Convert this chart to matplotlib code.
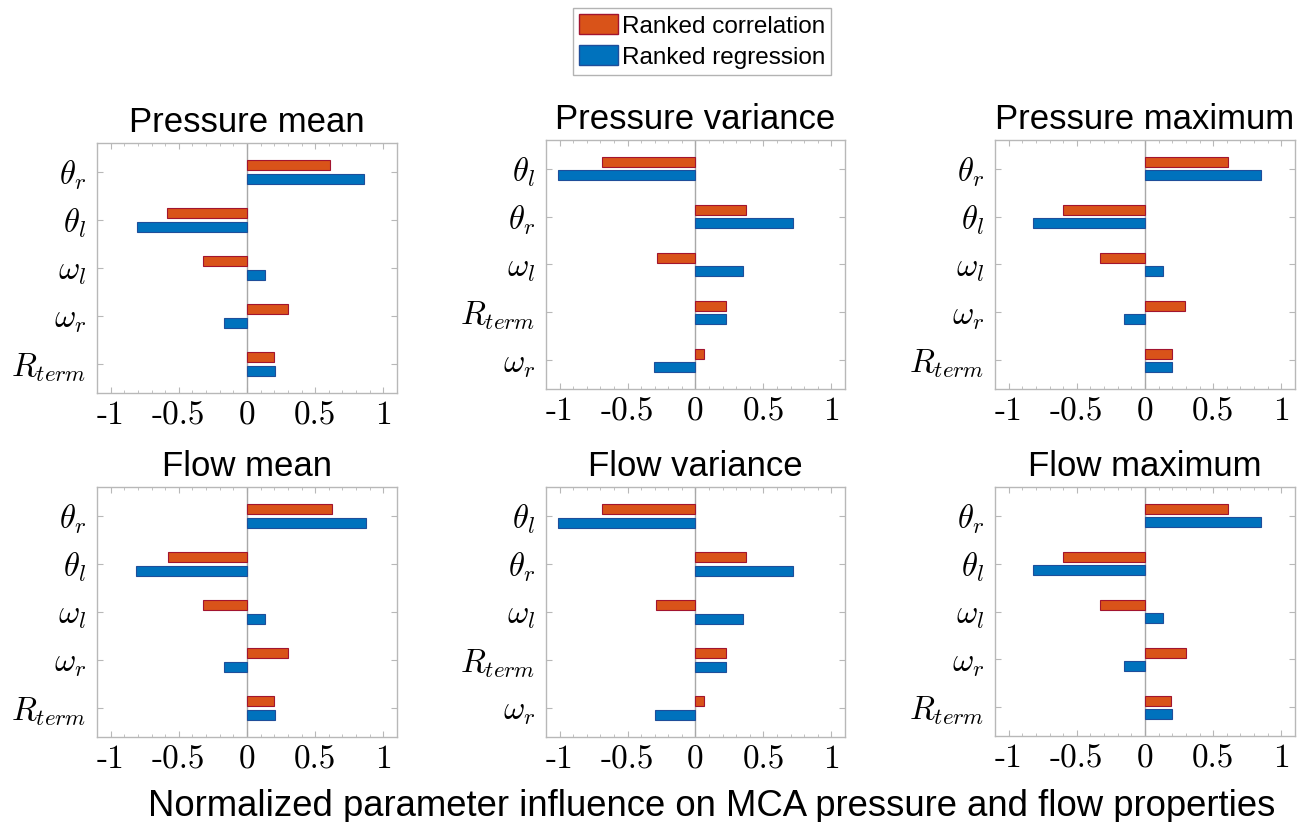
import numpy as np
import matplotlib
matplotlib.use('Agg')
import matplotlib.pyplot as plt
from matplotlib.patches import Patch

plt.rcParams['font.family'] = ['Liberation Sans', 'DejaVu Sans']
plt.rcParams['mathtext.fontset'] = 'cm'

# parameter order differs between the mean/max and variance panels
labels_a = [r'$\theta_r$', r'$\theta_l$', r'$\omega_l$', r'$\omega_r$', r'$R_{term}$']
labels_b = [r'$\theta_l$', r'$\theta_r$', r'$\omega_l$', r'$R_{term}$', r'$\omega_r$']

titles = ['Pressure mean', 'Pressure variance', 'Pressure maximum',
          'Flow mean', 'Flow variance', 'Flow maximum']

press_mean_corr = [0.61, -0.59, -0.325, 0.30, 0.20]
press_mean_reg = [0.86, -0.81, 0.134, -0.166, 0.203]
press_var_corr = [-0.686, 0.372, -0.285, 0.221, 0.061]
press_var_reg = [-1.015, 0.718, 0.353, 0.224, -0.302]
press_max_corr = [0.606, -0.601, -0.333, 0.296, 0.196]
press_max_reg = [0.851, -0.824, 0.132, -0.156, 0.196]

flow_mean_corr = [0.62, -0.583, -0.319, 0.304, 0.20]
flow_mean_reg = [0.87, -0.811, 0.135, -0.172, 0.203]
flow_var_corr = [-0.686, 0.372, -0.29, 0.221, 0.066]
flow_var_reg = [-1.01, 0.718, 0.348, 0.221, -0.297]
flow_max_corr = [0.606, -0.601, -0.333, 0.298, 0.193]
flow_max_reg = [0.851, -0.822, 0.130, -0.156, 0.196]

xticks = [-1, -0.5, 0, 0.5, 1]
xticklabels = ['-1', '-0.5', '0', '0.5', '1']

panels = [
    (press_mean_corr, press_mean_reg, labels_a),
    (press_var_corr, press_var_reg, labels_b),
    (press_max_corr, press_max_reg, labels_a),
    (flow_mean_corr, flow_mean_reg, labels_a),
    (flow_var_corr, flow_var_reg, labels_b),
    (flow_max_corr, flow_max_reg, labels_a),
]

# axes boxes in pixels (left, top, width, height)
W, H = 1311, 822
boxes = [
    (97, 143, 300, 250), (546, 140, 299, 249), (995, 140, 300, 249),
    (97, 487, 300, 250), (546, 487, 299, 250), (995, 487, 300, 249),
]

c_corr = '#D95319'
c_reg = '#0072BD'
e_corr = '#A2142F'
e_reg = '#1F4E9A'
spine_c = '#b8b8b8'

fig = plt.figure(figsize=(W / 100, H / 100), dpi=100)

for (corr, reg, labels), title, (x0, y0, w, h) in zip(panels, titles, boxes):
    ax = fig.add_axes([x0 / W, 1 - (y0 + h) / H, w / W, h / H])
    y = np.arange(1, len(labels) + 1)
    ax.barh(y - 0.14, corr, height=0.21, color=c_corr, edgecolor=e_corr, lw=0.8, zorder=3)
    ax.barh(y + 0.14, reg, height=0.21, color=c_reg, edgecolor=e_reg, lw=0.8, zorder=3)
    ax.axvline(0, color='#a8a8a8', lw=1.0, zorder=2)
    ax.set_xlim(-1.1, 1.1)
    ax.set_ylim(5.6, 0.4)
    ax.set_yticks(y)
    ax.set_yticklabels(labels, fontsize=23.5)
    ax.set_xticks(xticks)
    ax.set_xticklabels(xticklabels, fontsize=24, fontfamily='cmr10')
    ax.set_xticks(np.arange(-1.1, 1.11, 0.1), minor=True)
    ax.tick_params(axis='both', which='both', direction='in', color=spine_c,
                   top=True, right=True)
    ax.tick_params(axis='x', which='major', length=4, pad=6)
    ax.tick_params(axis='x', which='minor', length=2.5)
    ax.tick_params(axis='y', which='major', length=4, pad=8)
    for s in ax.spines.values():
        s.set_color(spine_c)
        s.set_linewidth(1.0)
    ax.set_title(title, fontsize=25, pad=8)

handles = [Patch(facecolor=c_corr, edgecolor=e_corr), Patch(facecolor=c_reg, edgecolor=e_reg)]
fig.legend(handles, ['Ranked correlation', 'Ranked regression'],
           loc='upper center', bbox_to_anchor=(0.5355, 0.99), fontsize=17.5,
           frameon=True, fancybox=False, edgecolor='#a0a0a0',
           handlelength=1.6, handleheight=0.9, borderpad=0.25,
           labelspacing=0.3, handletextpad=0.15, borderaxespad=0)

fig.text(0.543, -0.002, 'Normalized parameter influence on MCA pressure and flow properties',
         ha='center', va='bottom', fontsize=26.3)

fig.savefig('out.png', dpi=100)
